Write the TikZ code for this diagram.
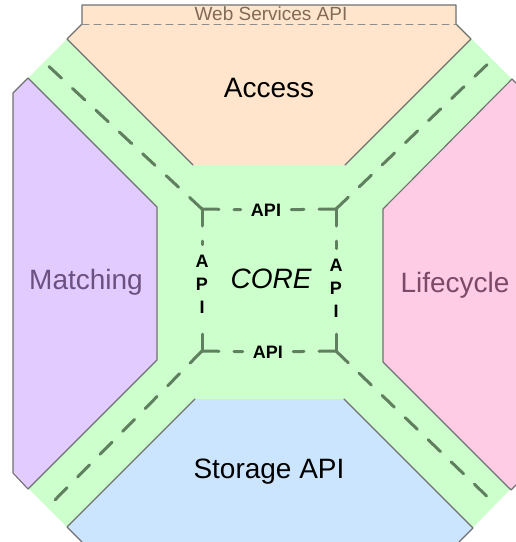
\documentclass[tikz,border=0pt]{standalone}
\usepackage{fontspec}
\setmainfont{Liberation Sans}
\definecolor{coregreen}{HTML}{CCFFCC}
\definecolor{accessfill}{HTML}{FFE5CC}
\definecolor{matchfill}{HTML}{E2CCFF}
\definecolor{lifefill}{HTML}{FFCCE5}
\definecolor{storefill}{HTML}{CCE5FF}
\definecolor{edgegray}{HTML}{707070}
\definecolor{roadgray}{HTML}{5F7F5F}
\definecolor{matchtext}{HTML}{6B5080}
\definecolor{lifetext}{HTML}{7A4A68}
\definecolor{webtext}{HTML}{806A58}
\begin{document}
\begin{tikzpicture}[x=1pt,y=-1pt,line join=round,line cap=round,
	zone/.style={draw=edgegray,line width=1.1pt},
	road/.style={draw=roadgray,line width=3pt,dash pattern=on 17pt off 15pt},
	bigtext/.style={font=\fontsize{28}{30}\selectfont,anchor=base},
	apitext/.style={font=\fontsize{18}{23}\selectfont\bfseries,inner sep=6pt,align=center}]
	\useasboundingbox (0,0) rectangle (516,542);
	\clip (0,0) rectangle (516,542);
	% outer octagon and the four zones
	\fill[coregreen] (82,24)--(457,24)--(525,92)--(525,474)--(459,542)--(82,542)--(13,473)--(13,93)--cycle;
	\fill[accessfill] (82,5)--(456,5)--(456,24)--(471,39)--(345,165)--(193,165)--(67,39)--(82,24)--cycle;
	\draw[zone] (193,165)--(67,39)--(82,24)--(82,5)--(456,5)--(456,24)--(471,39)--(345,165);
	\draw[draw=edgegray!80,line width=1pt,dash pattern=on 7pt off 5pt] (82,24)--(456,24);
	\filldraw[zone,fill=matchfill] (157,207)--(28,78)--(13,93)--(13,473)--(28,489)--(157,360)--cycle;
	\filldraw[zone,fill=lifefill] (530,97)--(512,79)--(383,209)--(383,362)--(511,490)--(530,471);
	\fill[storefill] (195,399)--(344,399)--(473,528)--(459,542)--(82,542)--(67,527)--cycle;
	\draw[zone] (195,399)--(67,527)--(82,542);
	\draw[zone] (344,399)--(473,528)--(459,542);
	% labels
	\node[bigtext] (access) at (269,97) {Access};
	\node[bigtext,text=matchtext] (matching) at (86,289) {Matching};
	\node[bigtext,text=lifetext] (lifecycle) at (455,292) {Lifecycle};
	\node[bigtext] (storage) at (269,478) {Storage API};
	\node[bigtext,font=\fontsize{28}{30}\selectfont\itshape] (core) at (271,288) {CORE};
	\node[anchor=base,text=webtext,font=\fontsize{19}{21}\selectfont] (web) at (271,20) {Web Services API};
	\node[apitext] (apiT) at (266,210) {API};
	\node[apitext] (apiB) at (268,352) {API};
	\node[apitext] (apiL) at (202,284) {A\\P\\I};
	\node[apitext] (apiR) at (336,288) {A\\P\\I};
	% core corners and road ends
	\path
	(202,209) coordinate (cTL)
	(336,209) coordinate (cTR)
	(336,351) coordinate (cBR)
	(202,351) coordinate (cBL)
	(42,60) coordinate (eTL)
	(494,58) coordinate (eTR)
	(497,506) coordinate (eBR)
	(47,508) coordinate (eBL);
	\draw[road] (cTL)--(eTL);
	\draw[road] (cTR)--(eTR);
	\draw[road] (cBR)--(eBR);
	\draw[road] (cBL)--(eBL);
	\begin{scope}[shorten >=4pt]
	\draw[road] (cTL)--(apiT); \draw[road] (cTR)--(apiT);
	\draw[road] (cBL)--(apiB); \draw[road] (cBR)--(apiB);
	\draw[road] (cTL)--(apiL); \draw[road] (cBL)--(apiL);
	\draw[road] (cTR)--(apiR); \draw[road] (cBR)--(apiR);
	\end{scope}
\end{tikzpicture}
\end{document}
